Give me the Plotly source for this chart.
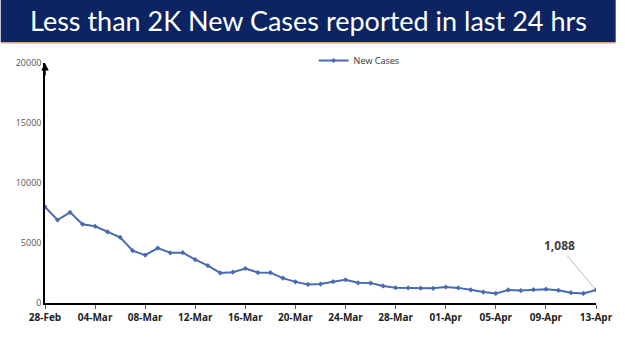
import plotly.graph_objects as go

dates = ["28-Feb", "01-Mar", "02-Mar", "03-Mar", "04-Mar", "05-Mar", "06-Mar", "07-Mar", "08-Mar",
         "09-Mar", "10-Mar", "11-Mar", "12-Mar", "13-Mar", "14-Mar", "15-Mar", "16-Mar", "17-Mar",
         "18-Mar", "19-Mar", "20-Mar", "21-Mar", "22-Mar", "23-Mar", "24-Mar", "25-Mar", "26-Mar",
         "27-Mar", "28-Mar", "29-Mar", "30-Mar", "31-Mar", "01-Apr", "02-Apr", "03-Apr", "04-Apr",
         "05-Apr", "06-Apr", "07-Apr", "08-Apr", "09-Apr", "10-Apr", "11-Apr", "12-Apr", "13-Apr"]
new_cases = [8013, 6915, 7554, 6561, 6396, 5921, 5476, 4362, 3993,
             4575, 4184, 4194, 3614, 3116, 2503, 2568, 2876, 2539,
             2528, 2075, 1761, 1549, 1581, 1778, 1938, 1685, 1660,
             1421, 1270, 1259, 1233, 1225, 1335, 1260, 1096, 913,
             795, 1086, 1033, 1109, 1150, 1054, 861, 796, 1088]
y_ticks = [0, 5000, 10000, 15000, 20000]
y_tick_labels = ["0", "5000", "10000", "15000", "20000"]
title_text = "Less than 2K New Cases reported in last 24 hrs"

idx = list(range(len(dates)))
tick_idx = idx[::4]
tick_lab = [dates[i] for i in tick_idx]

fig = go.Figure()
fig.add_trace(go.Scatter(
    x=idx, y=new_cases, mode="lines+markers", name="New Cases",
    line=dict(color="#4a6bb0", width=2),
    marker=dict(size=4, color="#4a6bb0", symbol="diamond"),
))

L, R, T, B = 45, 20, 63, 48
W, H = 625, 351
pw, ph = W - L - R, H - T - B

def px(xp):
    return (xp - L) / pw

def py(yp):
    return (H - B - yp) / ph

fig.update_layout(
    width=W, height=H,
    margin=dict(l=L, r=R, t=T, b=B),
    paper_bgcolor="white", plot_bgcolor="white",
    showlegend=True,
    legend=dict(x=px(318), y=py(46), xanchor="left", yanchor="top",
                font=dict(family="Open Sans", size=9, color="#333333"),
                bgcolor="rgba(0,0,0,0)", itemwidth=30),
    xaxis=dict(range=[0, len(dates) - 1], tickvals=tick_idx, ticktext=tick_lab,
               showgrid=False, zeroline=False, showline=True, linecolor="black",
               linewidth=1.5, ticks="outside", ticklen=4, tickcolor="#555555",
               tickfont=dict(family="Open Sans", size=10, color="#222222", weight="bold")),
    yaxis=dict(range=[0, 20000], tickvals=y_ticks, ticktext=y_tick_labels,
               showgrid=False, zeroline=False,
               showline=True, linecolor="black", linewidth=1.5, ticks="",
               tickfont=dict(family="Open Sans", size=9, color="#555555")),
    shapes=[
        dict(type="rect", xref="paper", yref="paper", x0=px(0), x1=px(W), y0=py(42), y1=py(0),
             fillcolor="#0c2461", line=dict(width=0), layer="above"),
        dict(type="line", xref="paper", yref="paper", x0=px(0), x1=px(W), y0=py(42.7), y1=py(42.7),
             line=dict(color="#e6a07a", width=1.5)),
    ],
    annotations=[
        dict(text=title_text, xref="paper", yref="paper", x=px(313), y=py(21),
             xanchor="center", yanchor="middle", showarrow=False,
             font=dict(family="Lato", size=27, color="white")),
        dict(x=0, y=20000, xref="x", yref="y", ax=0, ay=14, axref="pixel", ayref="pixel",
             text="", showarrow=True, arrowhead=2, arrowsize=1, arrowwidth=1.5, arrowcolor="black"),
        dict(x=len(dates) - 1, y=new_cases[-1], xref="x", yref="y",
             text=f"{new_cases[-1]:,}", showarrow=True, arrowhead=0, arrowwidth=0.8,
             arrowcolor="#aaaaaa", ax=-37, ay=-44, standoff=2,
             font=dict(family="Open Sans", size=12, color="#404040", weight="bold")),
    ],
)

fig.write_html("out.html")
